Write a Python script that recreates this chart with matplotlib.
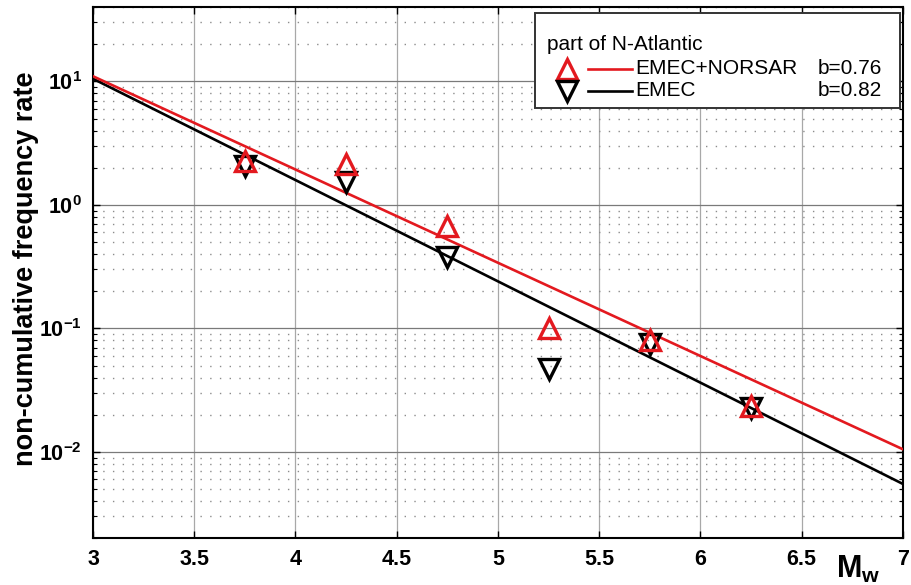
import matplotlib
matplotlib.use('Agg')
import matplotlib.pyplot as plt
from matplotlib.patches import Rectangle
from matplotlib.ticker import FixedLocator, FuncFormatter, LogLocator, NullFormatter
import numpy as np

plt.rcParams['font.family'] = 'Liberation Sans'
plt.rcParams['mathtext.fontset'] = 'custom'
plt.rcParams['mathtext.rm'] = 'Liberation Sans'
plt.rcParams['mathtext.bf'] = 'Liberation Sans:bold'

# magnitude bins (Mw) and non-cumulative rates
mag = [3.75, 4.25, 4.75, 5.25, 5.75, 6.25]
rate_emec_norsar = [2.27, 2.15, 0.68, 0.100, 0.080, 0.0235]
rate_emec = [2.07, 1.53, 0.38, 0.047, 0.075, 0.0226]

# fitted Gutenberg-Richter lines (end points)
fit_mag = [3.0, 7.0]
fit_emec_norsar = [11.0, 0.0105]
fit_emec = [10.5, 0.0055]

legend_title = 'part of N-Atlantic'
labels = ['EMEC+NORSAR', 'EMEC']
b_values = ['b=0.76', 'b=0.82']

red = '#e3191f'

fig = plt.figure(figsize=(9.12, 5.85), dpi=100)
ax = fig.add_axes([0.102, 0.080, 0.888, 0.908])

ax.set_yscale('log')
ax.set_xlim(3, 7)
ax.set_ylim(0.002, 40)

ax.plot(fit_mag, fit_emec, color='black', lw=1.9, zorder=3)
ax.plot(fit_mag, fit_emec_norsar, color=red, lw=1.9, zorder=3)
ax.plot(mag, rate_emec, 'v', ms=15, mfc='none', mec='black', mew=2.4, zorder=4)
ax.plot(mag, rate_emec_norsar, '^', ms=15, mfc='none', mec=red, mew=2.4, zorder=5)

# grid
ax.xaxis.set_major_locator(FixedLocator(np.arange(3, 7.01, 0.5)))
ax.yaxis.set_major_locator(LogLocator(base=10, numticks=10))
ax.yaxis.set_minor_locator(LogLocator(base=10, subs=np.arange(2, 10), numticks=20))
ax.yaxis.set_minor_formatter(NullFormatter())
ax.grid(True, axis='x', which='major', color='#a8a8a8', lw=0.9, ls='-')
ax.grid(True, axis='y', which='major', color='#7a7a7a', lw=0.9, ls='-')
ax.grid(True, axis='y', which='minor', color='#8c8c8c', lw=1.0, ls=(0, (1, 6)))

ax.xaxis.set_major_formatter(FuncFormatter(lambda v, p: '%g' % v))
ax.yaxis.set_major_formatter(FuncFormatter(
    lambda v, p: r'$\mathbf{10^{%d}}$' % int(round(np.log10(v)))))
ax.tick_params(which='both', direction='in', top=True, right=True)
ax.tick_params(which='major', length=5, width=1, labelsize=15.5, pad=8)
ax.tick_params(which='minor', length=3, width=0.8)
for lab in ax.get_xticklabels():
    lab.set_fontweight('bold')
for s in ax.spines.values():
    s.set_linewidth(1.5)

ax.set_ylabel('non-cumulative frequency rate', fontsize=19.5, fontweight='bold')
ax.yaxis.set_label_coords(-0.067, 0.507)
ax.text(6.78, -0.058, r'$\mathbf{M_w}$', transform=ax.get_xaxis_transform(),
        fontsize=22, ha='center', va='center')

# legend box drawn by hand
ax.add_patch(Rectangle((0.546, 0.809), 0.45, 0.179, transform=ax.transAxes,
                       facecolor='white', edgecolor='#333333', lw=1.4, zorder=6))
ax.text(0.560, 0.930, legend_title, transform=ax.transAxes, fontsize=15,
        ha='left', va='center', zorder=7)
for i, (lab, bv) in enumerate(zip(labels, b_values)):
    yy = 0.884 - i * 0.042
    col = red if i == 0 else 'black'
    ax.plot([0.585], [yy], '^' if i == 0 else 'v', ms=15, mfc='none', mec=col,
            mew=2.4, transform=ax.transAxes, zorder=7, clip_on=False)
    ax.plot([0.611, 0.665], [yy, yy], color=col, lw=1.9,
            transform=ax.transAxes, zorder=7, clip_on=False)
    ax.text(0.670, yy, lab, transform=ax.transAxes, fontsize=15,
            ha='left', va='center', zorder=7)
    ax.text(0.974, yy, bv, transform=ax.transAxes, fontsize=15,
            ha='right', va='center', zorder=7)

fig.savefig('out.png', dpi=100)
